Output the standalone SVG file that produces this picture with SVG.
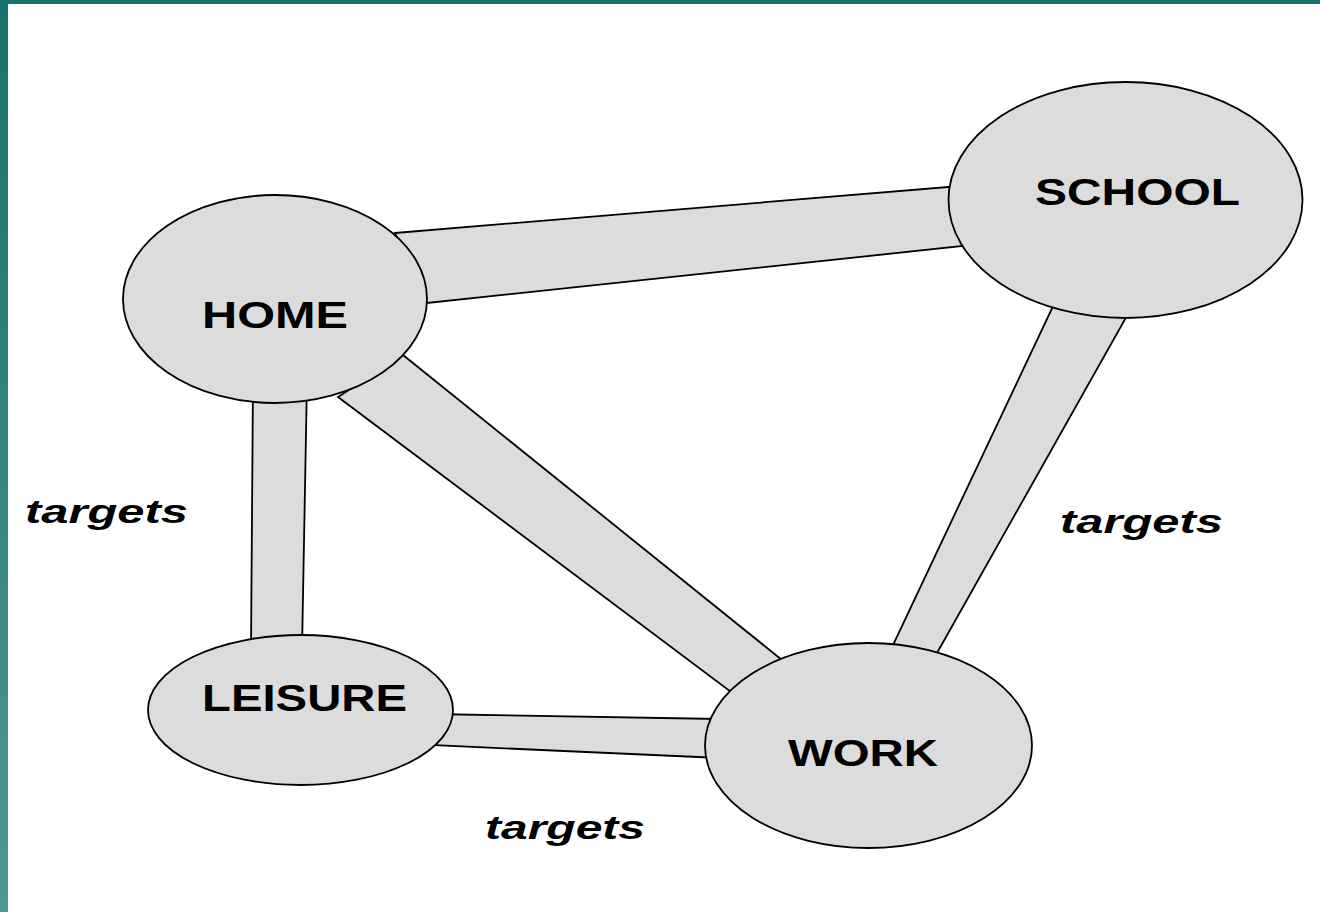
<svg xmlns="http://www.w3.org/2000/svg" width="1320" height="912" viewBox="0 0 1320 912">
  <defs>
    <linearGradient id="edgeBar" x1="0" y1="0" x2="0" y2="1">
      <stop offset="0" stop-color="#16726c"/>
      <stop offset="1" stop-color="#509893"/>
    </linearGradient>
    <style>
      .band { fill: #dcdcdc; stroke: #000; stroke-width: 1.8; stroke-linejoin: miter; }
      .node ellipse { fill: #dcdcdc; stroke: #000; stroke-width: 1.8; }
      .node text { font-family: "Liberation Sans", Arial, sans-serif; font-weight: bold; font-size: 36px; fill: #000; }
      .lbl { font-family: "Liberation Sans", Arial, sans-serif; font-weight: bold; font-style: italic; font-size: 34px; fill: #000; }
    </style>
  </defs>

  <!-- page frame -->
  <rect x="0" y="0" width="1320" height="912" fill="#fff"/>
  <rect x="0" y="0" width="1320" height="4" fill="#16726c"/>
  <rect x="0" y="0" width="8" height="912" fill="url(#edgeBar)"/>

  <!-- connectors: wide bands drawn beneath the nodes -->
  <g id="connectors">
    <polygon class="band" points="395,233 960,186 972,245 427,303"/>
    <polygon class="band" points="253,380 307,380 302,650 251,650"/>
    <polygon class="band" points="403,355 782,660 735,695 338,397"/>
    <polygon class="band" points="430,714 720,719 720,758 430,745"/>
    <polygon class="band" points="1055,302 1128,314 937,653 893,645"/>
  </g>

  <g id="node-home" class="node">
    <ellipse cx="275" cy="299" rx="152" ry="104"/>
    <text x="202" y="328" textLength="146" lengthAdjust="spacingAndGlyphs">HOME</text>
  </g>

  <g id="node-school" class="node">
    <ellipse cx="1125.5" cy="200" rx="177" ry="118"/>
    <text x="1035" y="205" textLength="205" lengthAdjust="spacingAndGlyphs">SCHOOL</text>
  </g>

  <g id="node-leisure" class="node">
    <ellipse cx="300.5" cy="710" rx="152.5" ry="75"/>
    <text x="202" y="711" textLength="205" lengthAdjust="spacingAndGlyphs">LEISURE</text>
  </g>

  <g id="node-work" class="node">
    <ellipse cx="868.5" cy="745.5" rx="163.5" ry="102.5"/>
    <text x="788" y="766" textLength="150" lengthAdjust="spacingAndGlyphs">WORK</text>
  </g>

  <g id="labels">
    <text class="lbl" x="25" y="523" textLength="163" lengthAdjust="spacingAndGlyphs">targets</text>
    <text class="lbl" x="1060" y="533" textLength="163" lengthAdjust="spacingAndGlyphs">targets</text>
    <text class="lbl" x="485" y="839" textLength="160" lengthAdjust="spacingAndGlyphs">targets</text>
  </g>
</svg>
